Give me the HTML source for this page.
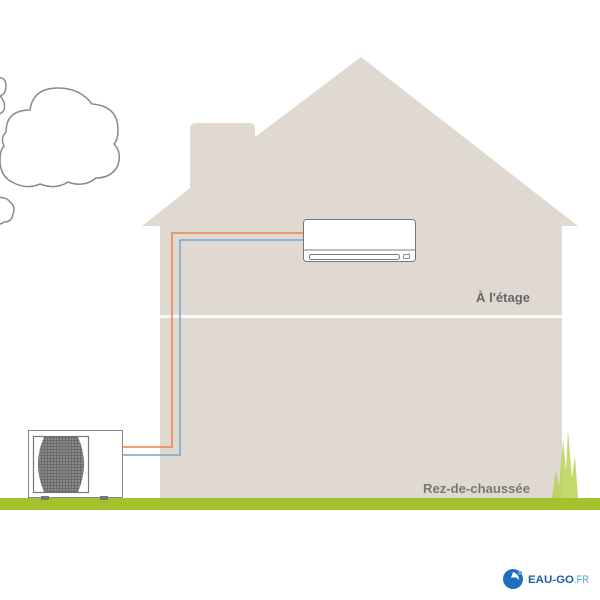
<!DOCTYPE html>
<html><head><meta charset="utf-8"><style>
html,body{margin:0;padding:0;background:#fff;width:600px;height:600px;overflow:hidden}
</style></head><body>
<svg width="600" height="600" viewBox="0 0 600 600" xmlns="http://www.w3.org/2000/svg">
<rect width="600" height="600" fill="#fff"/>
<path d="M361,57 L578,226 L562,226 L562,500 L160,500 L160,226 L142,226 L190,188 L190,129 Q190,123 196,123 L249,123 Q255,123 255,129 L255,137 Z" fill="#e0d9d2"/>
<rect x="160" y="315" width="402" height="3" fill="#fbf9f7"/>
<rect x="0" y="498" width="600" height="12" fill="#a4c22b"/>
<path d="M552,498 L556,470 L559,488 L563,440 L566,470 L568,430 L572,478 L575,456 L578,498 Z" fill="#b5d04a" opacity="0.8"/>
<polyline points="303,233 172,233 172,447 122,447" fill="none" stroke="#e8844a" stroke-width="1.5"/>
<polyline points="303,240 180,240 180,455 122,455" fill="none" stroke="#6fa7d6" stroke-width="1.5"/>
<rect x="303.5" y="219.5" width="112" height="42" rx="3" fill="#fff" stroke="#777" stroke-width="1"/>
<line x1="304" y1="250" x2="415" y2="250" stroke="#aaa" stroke-width="1.5"/>
<rect x="309.5" y="254.5" width="90" height="5" rx="2" fill="#fff" stroke="#777" stroke-width="1"/>
<rect x="403.5" y="254.5" width="6" height="4" fill="#fff" stroke="#777" stroke-width="0.8"/>
<rect x="28.5" y="430.5" width="94" height="67" fill="#fff" stroke="#888" stroke-width="1"/>
<rect x="33.5" y="436.5" width="55" height="56" fill="#fff" stroke="#777" stroke-width="1.2"/>
<defs><pattern id="g" width="3" height="3" patternUnits="userSpaceOnUse"><rect width="3" height="3" fill="#6a6a6a"/><rect width="2" height="2" fill="#8a8a8a"/></pattern></defs>
<path d="M44,437 L78,437 Q90,464 78,492 L44,492 Q32,464 44,437 Z" fill="url(#g)"/>
<rect x="41" y="496" width="8" height="4" fill="#777"/>
<rect x="100" y="496" width="8" height="4" fill="#777"/>
<g fill="#fff" stroke="#8a8a8a" stroke-width="1.5">
<path d="M6,132 Q6,110 30,110 Q33,88 58,88 Q80,88 92,104 Q118,106 118,130 Q118,140 114,144 Q122,152 118,165 Q112,178 96,178 Q84,188 68,182 Q56,190 40,184 Q26,190 12,182 Q0,176 0,160 Q0,150 4,146 Q0,138 6,132 Z"/>
<path d="M-4,78 Q6,76 6,86 Q6,94 0,96 Q6,102 4,110 Q0,116 -6,114"/>
<path d="M-4,198 Q6,196 10,202 Q16,206 13,214 Q12,222 4,222 Q0,226 -6,222"/>
</g>
<text x="476" y="302" font-family="Liberation Sans, sans-serif" font-size="13" font-weight="bold" fill="#666" textLength="54" lengthAdjust="spacingAndGlyphs">À l'étage</text>
<text x="423" y="493" font-family="Liberation Sans, sans-serif" font-size="13" font-weight="bold" fill="#777" textLength="107" lengthAdjust="spacingAndGlyphs">Rez-de-chaussée</text>
<circle cx="513" cy="579" r="10" fill="#1f6fc0"/>
<path d="M513,572 Q519,574 519,580 Q516,576 511,578 Z" fill="#fff"/>
<circle cx="520" cy="573" r="2" fill="#4ab0e8"/>
<text x="528" y="583" font-family="Liberation Sans, sans-serif" font-size="11" font-weight="bold" fill="#1f5fa8" textLength="46" lengthAdjust="spacingAndGlyphs">EAU-GO</text>
<text x="574" y="583" font-family="Liberation Sans, sans-serif" font-size="11" fill="#49a8e0" textLength="15" lengthAdjust="spacingAndGlyphs">.FR</text>
</svg>
</body></html>
